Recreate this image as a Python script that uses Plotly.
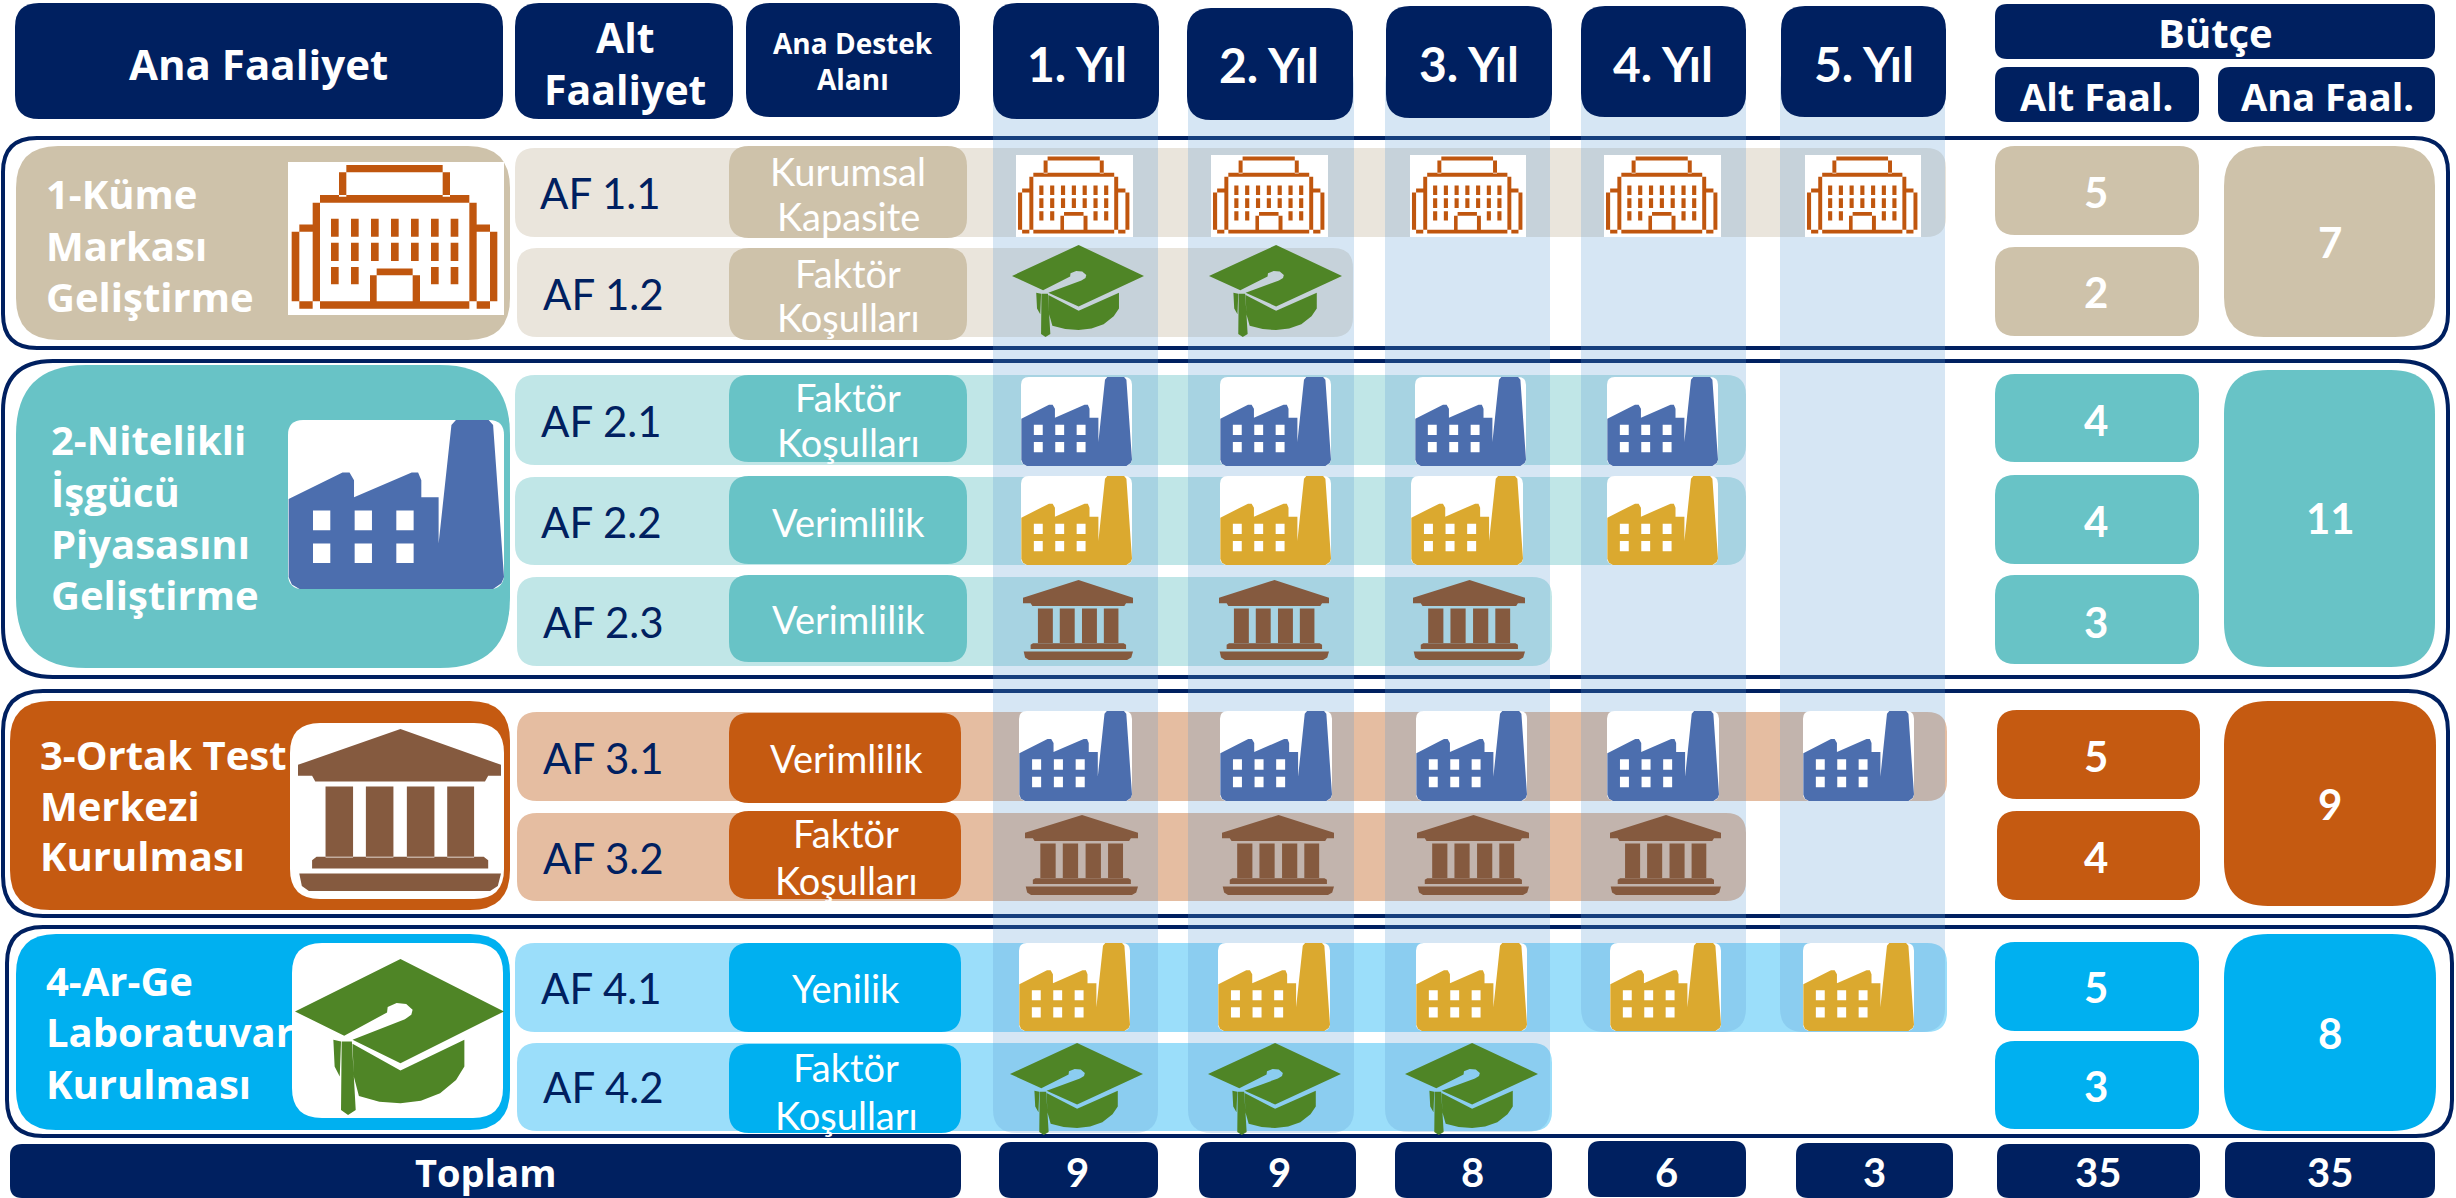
import plotly.graph_objects as go

# ---------- data ----------
MAIN_ACTIVITIES = [
    ["1-Küme", "Markası", "Geliştirme"],
    ["2-Nitelikli", "İşgücü", "Piyasasını", "Geliştirme"],
    ["3-Ortak Test", "Merkezi", "Kurulması"],
    ["4-Ar-Ge", "Laboratuvar", "Kurulması"],
]
SUB_ACTIVITIES = ["AF 1.1", "AF 1.2", "AF 2.1", "AF 2.2", "AF 2.3", "AF 3.1", "AF 3.2", "AF 4.1", "AF 4.2"]
SUPPORT_AREAS = [
    ["Kurumsal", "Kapasite"], ["Faktör", "Koşulları"],
    ["Faktör", "Koşulları"], ["Verimlilik"], ["Verimlilik"],
    ["Verimlilik"], ["Faktör", "Koşulları"],
    ["Yenilik"], ["Faktör", "Koşulları"],
]
YEARS = ["1. Yıl", "2. Yıl", "3. Yıl", "4. Yıl", "5. Yıl"]
ICON_KIND = ["building", "cap", "factory_blue", "factory_yellow", "museum", "factory_blue", "museum", "factory_yellow", "cap"]
ACTIVE_YEARS = [5, 2, 4, 4, 3, 5, 4, 5, 3]
SUB_BUDGET = [5, 2, 4, 4, 3, 5, 4, 5, 3]
MAIN_BUDGET = [7, 11, 9, 8]
YEAR_TOTALS = [9, 9, 8, 6, 3]
BUDGET_TOTALS = [35, 35]
TOTAL_LABEL = "Toplam"

# ---------- styles and layout (pixels of the 2456x1198 page) ----------
NAVY = "#002060"
LATO = "Lato, 'Noto Sans', sans-serif"
OPEN = "'Open Sans', 'Noto Sans', sans-serif"
GROUP_COLOR = ["#CEC2AA", "#68C3C6", "#C55A11", "#00B0F0"]
BAND_COLOR = ["#EAE5DC", "#C0E6E7", "#E5BDA1", "#9BDEFA"]
ROW_GROUP = [0, 0, 1, 1, 1, 2, 2, 3, 3]
ICON_COLOR = {"building": "#C0560E", "cap": "#4F8526", "factory_blue": "#4C6EAE",
              "factory_yellow": "#DBA92F", "museum": "#855A3F"}

HEAD_MAIN = [(15, 3, 503, 119), (515, 3, 733, 119), (746, 3, 960, 117)]
HEAD_YEAR = [(993, 3, 1159, 119), (1187, 8, 1353, 120), (1386, 6, 1552, 118), (1581, 6, 1746, 117), (1781, 6, 1946, 117)]
HEAD_BUDGET = [(1995, 4, 2435, 59), (1995, 67, 2199, 122), (2218, 67, 2435, 122)]
COLUMN_BOX = [(993, 60, 1158, 1133), (1188, 60, 1354, 1133), (1385, 60, 1550, 1132), (1581, 60, 1746, 1032), (1780, 60, 1945, 1032)]
FRAME_BOX = [(3, 138, 2448, 348, 34), (3, 361, 2448, 677, 50), (3, 691, 2448, 916, 40), (7, 927, 2452, 1136, 36)]
MAIN_BOX = [(16, 146, 510, 340, 42), (16, 365, 510, 668, 70), (10, 701, 510, 910, 40), (16, 934, 510, 1130, 40)]
BAND_BOX = [(515, 148, 1946, 237), (517, 248, 1353, 337), (515, 375, 1746, 465), (515, 477, 1746, 565), (517, 577, 1552, 666),
            (517, 712, 1947, 801), (517, 813, 1746, 901), (515, 943, 1947, 1032), (517, 1043, 1552, 1131)]
SUPPORT_BOX = [(729, 146, 967, 238), (729, 248, 967, 340), (729, 375, 967, 462), (729, 476, 967, 564), (729, 575, 967, 662),
               (729, 713, 961, 803), (729, 811, 961, 899), (729, 943, 961, 1032), (729, 1044, 961, 1133)]
SUB_BUDGET_BOX = [(1995, 146, 2199, 235), (1995, 247, 2199, 336), (1995, 374, 2199, 462), (1995, 475, 2199, 564), (1995, 575, 2199, 664),
                  (1997, 710, 2200, 799), (1997, 811, 2200, 900), (1995, 942, 2199, 1031), (1995, 1041, 2199, 1129)]
MAIN_BUDGET_BOX = [(2224, 146, 2435, 337, 40), (2224, 370, 2435, 667, 44), (2224, 701, 2436, 906, 44), (2224, 934, 2436, 1131, 44)]
TOTAL_BOX = (10, 1144, 961, 1198)
YEAR_TOTAL_BOX = [(999, 1142, 1158, 1198), (1199, 1142, 1356, 1198), (1395, 1142, 1552, 1198), (1588, 1141, 1746, 1197), (1796, 1143, 1953, 1198)]
BUDGET_TOTAL_BOX = [(1997, 1144, 2200, 1198), (2225, 1142, 2435, 1198)]

ICON_X = [
    [(1016, 1133), (1211, 1328), (1410, 1526), (1604, 1721), (1805, 1921)],
    [(1012, 1144), (1209, 1342)],
    [(1021, 1132), (1220, 1331), (1415, 1526), (1607, 1718)],
    [(1021, 1132), (1220, 1331), (1411, 1523), (1607, 1718)],
    [(1023, 1133), (1219, 1329), (1413, 1525)],
    [(1019, 1132), (1220, 1332), (1416, 1527), (1607, 1719), (1803, 1914)],
    [(1025, 1138), (1222, 1334), (1417, 1529), (1610, 1721)],
    [(1019, 1130), (1218, 1330), (1416, 1527), (1610, 1721), (1803, 1914)],
    [(1010, 1143), (1208, 1341), (1405, 1538)],
]
ICON_Y = [(155, 237), (245, 337), (377, 466), (476, 565), (580, 660), (711, 801), (815, 895), (943, 1031), (1043, 1135)]
BIG_ICON = [("building", 288, 162, 504, 315), ("factory_blue", 288, 420, 504, 589),
            ("museum", 298, 729, 501, 891), ("cap", 295, 959, 504, 1115)]
BIG_ICON_BG = [None, None, (290, 723, 504, 899, 30), (292, 943, 503, 1118, 30)]

MAIN_TEXT_X = [45, 50, 39, 45]
MAIN_TEXT_Y = [[193, 245, 296], [439, 491, 543, 594], [754, 805, 855], [980, 1031, 1083]]
SUB_TEXT_X = [539, 542, 540, 540, 542, 542, 542, 540, 542]
SUB_TEXT_Y = [193, 294, 421, 522, 622, 758, 858, 988, 1087]
SUPPORT_TEXT_X = [848, 848, 848, 848, 848, 846, 846, 846, 846]
SUPPORT_TEXT_Y = [[171, 216], [273, 317], [397, 442], [522], [619], [758], [833, 880], [988], [1067, 1115]]
SUB_BUDGET_X = [2096] * 9
SUB_BUDGET_Y = [192, 292, 420, 521, 622, 756, 857, 987, 1086]
MAIN_BUDGET_XY = [(2330, 242), (2330, 518), (2330, 804), (2330, 1033)]
YEAR_TEXT_XY = [(1077, 63), (1269, 64), (1469, 63), (1663, 63), (1864, 63)]
TOTAL_TEXT_XY = (485, 1172)
YEAR_TOTAL_X = [1077, 1279, 1472, 1666, 1874]
BUDGET_TOTAL_X = [2098, 2330]
TOTAL_ROW_Y = 1172

shapes, annots = [], []


def rr(b, r):
    x0, y0, x1, y1 = b
    return (f"M{x0+r},{y0} L{x1-r},{y0} Q{x1},{y0} {x1},{y0+r} L{x1},{y1-r} Q{x1},{y1} {x1-r},{y1} "
            f"L{x0+r},{y1} Q{x0},{y1} {x0},{y1-r} L{x0},{y0+r} Q{x0},{y0} {x0+r},{y0} Z")


def add(path, fill, line=None, lw=0, opacity=1.0):
    shapes.append(dict(type="path", path=path, xref="x", yref="y", layer="above", opacity=opacity,
                       fillcolor=fill, line=dict(color=line or "rgba(0,0,0,0)", width=lw)))


def box(b, r, fill, **kw):
    add(rr(b, r), fill, **kw)


def text(t, x, y, size, color="#FFFFFF", bold=False, anchor="center", family=LATO):
    annots.append(dict(text=t, x=x, y=y, xref="x", yref="y", showarrow=False, xanchor=anchor, yanchor="middle",
                       borderpad=0, font=dict(family=family, size=size, color=color, weight=700 if bold else 400)))


def mapper(sx0, sy0, sx1, sy1, b):
    x0, y0, x1, y1 = b
    return lambda p: (round(x0 + (p[0] - sx0) / (sx1 - sx0) * (x1 - x0), 2),
                      round(y0 + (p[1] - sy0) / (sy1 - sy0) * (y1 - y0), 2))


def poly(pts, m):
    q = [m(p) for p in pts]
    return "M" + " L".join(f"{x},{y}" for x, y in q) + " Z "


def rect(x0, y0, x1, y1, m):
    return poly([(x0, y0), (x1, y0), (x1, y1), (x0, y1)], m)


def icon_building(b, color):
    m = mapper(54, 66, 702, 524, b)
    add(rect(54, 66, 702, 524, m), "#FFFFFF")
    bars = [
        (207, 75, 540, 97), (207, 75, 229, 170), (518, 75, 540, 170),      # penthouse
        (128, 165, 620, 188), (128, 165, 150, 505), (598, 165, 620, 505),  # body
        (65, 483, 682, 505),                                               # ground line
        (65, 253, 128, 275), (65, 253, 88, 505),                           # left wing
        (620, 253, 682, 275), (660, 253, 682, 505),                        # right wing
        (300, 385, 450, 405), (300, 385, 320, 483), (428, 385, 450, 483),  # door
    ]
    det = "".join(rect(*s, m) for s in bars)
    for i, wx in enumerate([183, 243, 303, 363, 423, 483, 542]):
        for j, (wy0, wy1) in enumerate([(236, 290), (308, 362), (380, 432)]):
            if j == 2 and i in (2, 3, 4):
                continue
            det += rect(wx, wy0, wx + 23, wy1, m)
    add(det, color)


def icon_factory(b, color):
    m = mapper(90, 50, 427, 317, b)
    x0, y0, x1, y1 = b
    add(rr(b, (x1 - x0) * 0.07), "#FFFFFF")
    pts = [(91, 175), (175, 133), (186, 133), (193, 145), (193, 172), (283, 133), (293, 133), (298, 145), (298, 172), (325, 172),
           (325, 245), (345, 58), (352, 50), (403, 50), (410, 58), (427, 298), (423, 308), (410, 317), (108, 317), (96, 310), (91, 298)]
    add(poly(pts, m), color)
    win = ""
    for wx in (129, 194, 259):
        for wy in (193, 245):
            win += rect(wx, wy, wx + 27, wy + 31, m)
    add(win, "#FFFFFF")


def icon_museum(b, color):
    m = mapper(468, 148, 785, 632, b)
    p = poly([(628, 148), (785, 255), (785, 288), (765, 288), (760, 305), (495, 305), (490, 288), (468, 288), (468, 255)], m)
    for cx in ((511, 554), (574, 617), (638, 681), (701, 743)):
        p += rect(cx[0], 320, cx[1], 532, m)
    p += poly([(497, 530), (758, 530), (765, 540), (765, 565), (490, 565), (490, 540)], m)
    p += poly([(470, 580), (785, 580), (780, 617), (768, 632), (485, 632), (474, 617)], m)
    add(p, color)


def icon_cap(b, color):
    m = mapper(463, 838, 790, 1305, b)
    board = [(628, 838), (790, 995), (628, 1150), (553, 1080), (635, 1018), (645, 1005), (647, 990), (637, 973), (622, 970),
             (608, 982), (607, 998), (540, 1068), (463, 995)]
    p = poly(board, m)
    p += poly([(553, 1092), (628, 1172), (728, 1080), (728, 1160), (715, 1200), (690, 1240), (660, 1262), (628, 1270),
               (595, 1265), (563, 1248), (555, 1190)], m)
    p += poly([(536, 1085), (552, 1085), (558, 1290), (546, 1305), (535, 1290)], m)
    p += poly([(523, 1080), (535, 1085), (533, 1190), (525, 1160)], m)
    add(p, color)


def icon(kind, b):
    color = ICON_COLOR[kind]
    if kind == "building":
        icon_building(b, color)
    elif kind == "cap":
        icon_cap(b, color)
    elif kind == "museum":
        icon_museum(b, color)
    else:
        icon_factory(b, color)


# ---- frames, bands and blocks
for x0, y0, x1, y1, r in FRAME_BOX:
    add(rr((x0, y0, x1, y1), r), "#FFFFFF", line=NAVY, lw=4)
for g, (x0, y0, x1, y1, r) in enumerate(MAIN_BOX):
    box((x0, y0, x1, y1), r, GROUP_COLOR[g])
for i, b in enumerate(BAND_BOX):
    box(b, 20, BAND_COLOR[ROW_GROUP[i]])
for i, b in enumerate(SUB_BUDGET_BOX):
    box(b, 20, GROUP_COLOR[ROW_GROUP[i]])
for g, (x0, y0, x1, y1, r) in enumerate(MAIN_BUDGET_BOX):
    box((x0, y0, x1, y1), r, GROUP_COLOR[g])

# ---- translucent year columns run over the frames and bands
for b in COLUMN_BOX:
    box(b, 24, "#5B9BD5", opacity=0.25)

# ---- support boxes sit above
for i, b in enumerate(SUPPORT_BOX):
    box(b, 20, GROUP_COLOR[ROW_GROUP[i]])

# ---- headers
for b in HEAD_MAIN + HEAD_YEAR:
    box(b, 24, NAVY)
for b in HEAD_BUDGET:
    box(b, 12, NAVY)
box(TOTAL_BOX, 12, NAVY)
for b in YEAR_TOTAL_BOX + BUDGET_TOTAL_BOX:
    box(b, 12, NAVY)

# ---- icons
for i, kind in enumerate(ICON_KIND):
    for y in range(ACTIVE_YEARS[i]):
        xr = ICON_X[i][y]
        icon(kind, (xr[0], ICON_Y[i][0], xr[1], ICON_Y[i][1]))
for bg in BIG_ICON_BG:
    if bg:
        box(bg[:4], bg[4], "#FFFFFF")
for kind, x0, y0, x1, y1 in BIG_ICON:
    icon(kind, (x0, y0, x1, y1))

# ---- text
text("Ana Faaliyet", 258, 63, 42, bold=True, family=OPEN)
text("Alt", 625, 37, 41, bold=True, family=OPEN)
text("Faaliyet", 625, 89, 41, bold=True, family=OPEN)
text("Ana Destek", 853, 43, 28, bold=True, family=OPEN)
text("Alanı", 853, 79, 28, bold=True, family=OPEN)
for t, (x, y) in zip(YEARS, YEAR_TEXT_XY):
    text(t, x, y, 48, bold=True)
text("Bütçe", 2215, 32, 40, bold=True, family=OPEN)
text("Alt Faal.", 2096, 96, 38, bold=True, family=OPEN)
text("Ana Faal.", 2327, 96, 38, bold=True, family=OPEN)

for lines, x, ys in zip(MAIN_ACTIVITIES, MAIN_TEXT_X, MAIN_TEXT_Y):
    for t, y in zip(lines, ys):
        text(t, x, y, 40, bold=True, anchor="left", family=OPEN)
for t, x, y in zip(SUB_ACTIVITIES, SUB_TEXT_X, SUB_TEXT_Y):
    text(t, x, y, 42, color=NAVY, anchor="left")
for lines, x, ys in zip(SUPPORT_AREAS, SUPPORT_TEXT_X, SUPPORT_TEXT_Y):
    for t, y in zip(lines, ys):
        text(t, x, y, 38)
for v, x, y in zip(SUB_BUDGET, SUB_BUDGET_X, SUB_BUDGET_Y):
    text(str(v), x, y, 42, bold=True)
for v, (x, y) in zip(MAIN_BUDGET, MAIN_BUDGET_XY):
    text(str(v), x, y, 42, bold=True)
text(TOTAL_LABEL, *TOTAL_TEXT_XY, 38, bold=True, family=OPEN)
for v, x in zip(YEAR_TOTALS + BUDGET_TOTALS, YEAR_TOTAL_X + BUDGET_TOTAL_X):
    text(str(v), x, TOTAL_ROW_Y, 40, bold=True)

fig = go.Figure()
fig.update_layout(
    width=2456, height=1198, margin=dict(l=0, r=0, t=0, b=0, pad=0), showlegend=False,
    paper_bgcolor="#FFFFFF", plot_bgcolor="#FFFFFF", shapes=shapes, annotations=annots,
    xaxis=dict(range=[0, 2456], visible=False, fixedrange=True),
    yaxis=dict(range=[1198, 0], visible=False, fixedrange=True),
)
fig.write_html("out.html", config=dict(displayModeBar=False),
               post_script="document.body.style.margin='0';document.body.style.overflow='hidden';")
